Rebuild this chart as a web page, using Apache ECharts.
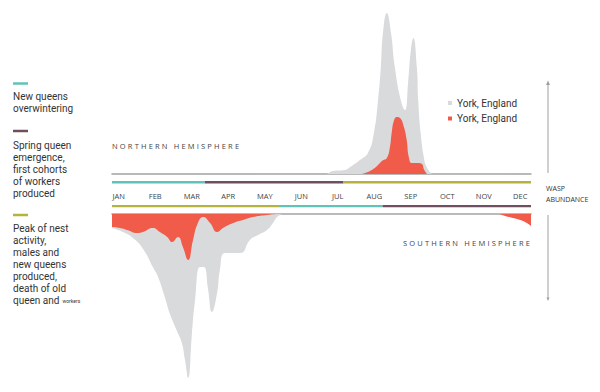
<!DOCTYPE html>
<html><head><meta charset="utf-8">
<script src="https://cdn.jsdelivr.net/npm/echarts@6/dist/echarts.min.js"></script>
<style>html,body{margin:0;padding:0;background:#fff}#c{width:600px;height:392px}</style>
</head><body><div id="c"></div>
<script>
// ---- data (x in months from start of January, y = relative wasp abundance) ----
const months = ['JAN','FEB','MAR','APR','MAY','JUN','JUL','AUG','SEP','OCT','NOV','DEC'];

const northGreyX = [6.16,6.33,6.67,6.82,7.10,7.33,7.50,7.62,7.70,7.76,7.87,7.99,8.10,8.27,8.39,8.48,8.56,8.63,8.73,8.77,8.84,8.93,9.01,9.16];
const northGrey  = [0,   3,   4,   7,   14,  21,  41,  74,  107, 141, 161, 141, 107, 74,  64,  91,  124, 136, 107, 74,  41,  17,  7,   0];

const northRedX = [7.16,7.39,7.59,7.73,7.87,7.96,8.01,8.08,8.16,8.25,8.36,8.44,8.50,8.59,8.76,8.88,8.93,9.02];
const northRed  = [0,   3,   8,   13,  16,  27,  41,  54,  57,  56,  47,  34,  17,  11,  11,  10,  5,   0];

const southGreyX = [0,  0.31,0.60,0.89,1.17,1.32,1.52,1.66,1.86,2.00,2.09,2.18,2.29,2.38,2.52,2.63,2.75,2.86,3.01,3.09,3.24,3.67,3.95,4.18,4.44,4.61,4.73,4.87];
const southGrey  = [14, 18,  24,  35,  53,  63,  84,  100, 117, 129, 146, 164, 119, 86,  53,  53,  75,  98,  79,  56,  39,  39,  26,  21,  16,  9,   3,   0];

const southRedX = [0,  0.23,0.43,0.72,0.89,1.17,1.37,1.58,1.72,1.89,2.03,2.18,2.32,2.46,2.61,2.81,3.01,3.18,3.47,3.75,4.04,4.44,4.81,11.03,11.26,11.60,11.83,12];
const southRed  = [13, 14,  16,  19,  18,  14,  18,  23,  28,  23,  33,  46,  26,  9,   3,   9,   18,  14,  9,   6,   3,   1,   0,   0,    2,    5,    8,    12];

// life-cycle phases: 0 = overwintering, 1 = spring emergence, 2 = peak activity
const phaseNames = ['New queens overwintering','Spring queen emergence, first cohorts of workers produced','Peak of nest activity, males and new queens produced, death of old queen and workers'];
const northPhaseStart = [0, 2.66, 6.63];
const northPhaseEnd   = [2.66, 6.63, 12];
const northPhaseType  = [0, 1, 2];
const southPhaseStart = [0, 4.78, 7.75];
const southPhaseEnd   = [4.78, 7.75, 12];
const southPhaseType  = [2, 0, 1];

// ---- styles ----
const phaseColors = ['#5fc4b7', '#6e4f60', '#b4b33d'];
const GREY = '#d9dadc', RED = '#f05b4a';
const FONT = '"Open Sans", "Noto Sans", sans-serif';
const LFONT = 'Roboto, "Liberation Sans", sans-serif';

const zip = (xs, ys) => xs.map((x, i) => [x, ys[i]]);

const series = [];
function area(name, xs, ys, axis, color) {
  series.push({
    name, type: 'line', xAxisIndex: axis, yAxisIndex: axis,
    data: zip(xs, ys), smooth: 0.5,
    showSymbol: false, symbol: 'none',
    lineStyle: { width: 0 }, areaStyle: { color: color, opacity: 1 },
    itemStyle: { color: color }, silent: true
  });
}
area('York, England', northGreyX, northGrey, 0, GREY);
area('York, England', northRedX, northRed, 0, RED);
area('York, England', southGreyX, southGrey, 1, GREY);
area('York, England', southRedX, southRed, 1, RED);

function phases(starts, ends, types, level) {
  starts.forEach((s, i) => {
    series.push({
      name: phaseNames[types[i]], type: 'line', xAxisIndex: 2, yAxisIndex: 2,
      data: [[s, level], [ends[i], level]], showSymbol: false, symbol: 'none',
      lineStyle: { color: phaseColors[types[i]], width: 2.5, cap: 'butt' }, silent: true
    });
  });
}
phases(northPhaseStart, northPhaseEnd, northPhaseType, 1);
phases(southPhaseStart, southPhaseEnd, southPhaseType, 0);

const baseLine = { show: true, onZero: true, lineStyle: { color: '#a3a3a3', width: 1.5 } };

const chart = echarts.init(document.getElementById('c'), null, { renderer: 'svg' });

const LEG_FONT = '10px ' + LFONT;
const legendLeft = [];
const blocks = [
  { y: 83.5, top: 90.5, type: 0, text: 'New queens\noverwintering' },
  { y: 131, top: 139, type: 1, text: 'Spring queen\nemergence,\nfirst cohorts\nof workers\nproduced' },
  { y: 215, top: 222, type: 2, text: 'Peak of nest\nactivity,\nmales and\nnew queens\nproduced,\ndeath of old' }
];
blocks.forEach(b => {
  legendLeft.push({ type: 'rect', shape: { x: 13, y: b.y - 1.25, width: 15, height: 2.5 }, style: { fill: phaseColors[b.type] }, silent: true });
  legendLeft.push({ type: 'text', x: 13, y: b.top, silent: true,
    style: { text: b.text, font: LEG_FONT, fill: '#333', lineHeight: 12, verticalAlign: 'top', align: 'left' } });
});
// last line of the third block: "queen and" followed by a tiny "workers"
legendLeft.push({ type: 'text', x: 13, y: 300, silent: true, style: { text: 'queen and', font: LEG_FONT, fill: '#333', verticalAlign: 'middle' } });
legendLeft.push({ type: 'text', x: 62.5, y: 301, silent: true, style: { text: 'workers', font: '5px ' + LFONT, fill: '#333', verticalAlign: 'middle' } });

const HEMI_FONT = '7.5px ' + FONT;

chart.setOption({
  animation: false,
  backgroundColor: '#fff',
  grid: [
    { left: 112, width: 419, top: 4, height: 170 },
    { left: 112, width: 419, top: 214, height: 170 },
    { left: 112, width: 419, top: 182.3, height: 24 },
    { left: 100.5, width: 438, top: 150, height: 40 }
  ],
  xAxis: [
    { gridIndex: 0, type: 'value', min: 0, max: 12, axisLine: baseLine, axisTick: { show: false }, axisLabel: { show: false }, splitLine: { show: false } },
    { gridIndex: 1, type: 'value', min: 0, max: 12, position: 'top', axisLine: baseLine, axisTick: { show: false }, axisLabel: { show: false }, splitLine: { show: false } },
    { gridIndex: 2, type: 'value', min: 0, max: 12, show: false },
    { gridIndex: 3, type: 'category', data: months, axisLine: { show: false }, axisTick: { show: false },
      axisLabel: { color: '#444', fontSize: 7.5, fontFamily: FONT, margin: 6, verticalAlign: 'middle', interval: 0 } }
  ],
  yAxis: [
    { gridIndex: 0, type: 'value', min: 0, max: 170, show: false },
    { gridIndex: 1, type: 'value', min: 0, max: 170, inverse: true, show: false },
    { gridIndex: 2, type: 'value', min: 0, max: 1, show: false },
    { gridIndex: 3, type: 'value', show: false }
  ],
  series: series,
  graphic: legendLeft.concat([
    { type: 'text', x: 112, y: 145.5, silent: true, style: { text: 'NORTHERN HEMISPHERE', font: HEMI_FONT, fill: '#444', verticalAlign: 'middle' } },
    { type: 'text', x: 530, y: 243, silent: true, style: { text: 'SOUTHERN HEMISPHERE', font: HEMI_FONT, fill: '#444', verticalAlign: 'middle', align: 'right' } },
    { type: 'rect', shape: { x: 448, y: 101, width: 4, height: 4 }, style: { fill: GREY }, silent: true },
    { type: 'text', x: 457, y: 103, silent: true, style: { text: 'York, England', font: LEG_FONT, fill: '#333', verticalAlign: 'middle' } },
    { type: 'rect', shape: { x: 448, y: 116.5, width: 4, height: 4 }, style: { fill: RED }, silent: true },
    { type: 'text', x: 457, y: 118.5, silent: true, style: { text: 'York, England', font: LEG_FONT, fill: '#333', verticalAlign: 'middle' } },
    { type: 'text', x: 546, y: 182.5, silent: true, style: { text: 'WASP\nABUNDANCE', font: '7px ' + FONT, fill: '#333', lineHeight: 11, verticalAlign: 'top' } },
    { type: 'line', shape: { x1: 548, y1: 83, x2: 548, y2: 173 }, style: { stroke: '#a0a0a0', lineWidth: 1 }, silent: true },
    { type: 'polygon', shape: { points: [[546, 85], [548, 80.5], [550, 85]] }, style: { fill: '#a0a0a0' }, silent: true },
    { type: 'line', shape: { x1: 548, y1: 215, x2: 548, y2: 298 }, style: { stroke: '#a0a0a0', lineWidth: 1 }, silent: true },
    { type: 'polygon', shape: { points: [[546.5, 297.5], [548, 301], [549.5, 297.5]] }, style: { fill: '#a0a0a0' }, silent: true }
  ])
});

// letter-spaced hemisphere titles (spread to the width used in the original design)
(function () {
  const targetWidth = 127;
  const ctx = document.createElement('canvas').getContext('2d');
  ctx.font = HEMI_FONT;
  document.querySelectorAll('#c svg text').forEach(t => {
    const s = t.textContent;
    if (s === 'NORTHERN HEMISPHERE' || s === 'SOUTHERN HEMISPHERE') {
      const w = ctx.measureText(s).width;
      const ls = (targetWidth - w) / (s.length - 1);
      t.setAttribute('letter-spacing', ls.toFixed(2));
      t.style.letterSpacing = ls.toFixed(2) + 'px';
      if (s === 'SOUTHERN HEMISPHERE') {
        const x = parseFloat(t.getAttribute('x') || '0');
        t.setAttribute('x', (x + ls).toString());
      }
    }
  });
})();
</script>
</body></html>
